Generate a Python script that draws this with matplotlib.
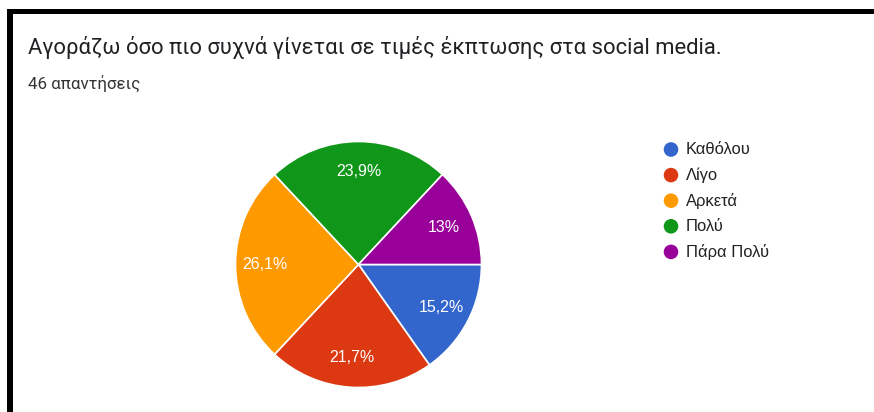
import matplotlib
matplotlib.use("Agg")
import matplotlib.pyplot as plt
from matplotlib.patches import Rectangle

plt.rcParams['font.family'] = ['Roboto', 'DejaVu Sans']
ARIAL = ['Liberation Sans', 'DejaVu Sans']

title = "Αγοράζω όσο πιο συχνά γίνεται σε τιμές έκπτωσης στα social media."
subtitle = "46 απαντήσεις"
categories = ["Καθόλου", "Λίγο", "Αρκετά", "Πολύ", "Πάρα Πολύ"]
counts = [7, 10, 12, 11, 6]
colors = ["#3366cc", "#dc3912", "#ff9900", "#109618", "#990099"]

W, H = 874, 412
fig = plt.figure(figsize=(W / 100, H / 100), dpi=100)
fig.patch.set_facecolor("white")

# overlay in pixel coordinates for frame, titles and legend
ov = fig.add_axes([0, 0, 1, 1])
ov.set_xlim(0, W)
ov.set_ylim(H, 0)
ov.axis("off")

# black frame on the top and left
ov.add_patch(Rectangle((7, 9), W - 7, 4.5, color="black", lw=0))
ov.add_patch(Rectangle((7, 9), 6, H - 9, color="black", lw=0))

ov.text(28, 47, title, fontsize=15.8, color="#202124", va="center", ha="left")
ov.text(28, 84, subtitle, fontsize=12.2, color="#333333", va="center", ha="left")

# pie chart
cx, cy, r = 358.5, 264.5, 123
pax = fig.add_axes([(cx - r) / W, 1 - (cy + r) / H, 2 * r / W, 2 * r / H])


def fmt(p):
    s = f"{p:.1f}"
    if s.endswith(".0"):
        s = s[:-2]
    return s.replace(".", ",") + "%"


wedges, texts, autotexts = pax.pie(
    counts, colors=colors, startangle=0, counterclock=False,
    autopct=fmt, pctdistance=0.76,
    wedgeprops=dict(edgecolor="white", linewidth=1.2),
    textprops=dict(color="white", fontsize=11.5, family=ARIAL),
)
pax.set_xlim(-1, 1)
pax.set_ylim(-1, 1)
pax.set_aspect("equal")
pax.axis("off")

# legend
ly0, dy = 149.5, 25.6
for i, (lab, col) in enumerate(zip(categories, colors)):
    y = ly0 + i * dy
    ov.scatter([671], [y], s=110, color=col, edgecolors="none")
    ov.text(686, y, lab, fontsize=11.9, color="#222222", va="center", ha="left",
            family=ARIAL)

fig.savefig("out.png", dpi=100, facecolor="white")
